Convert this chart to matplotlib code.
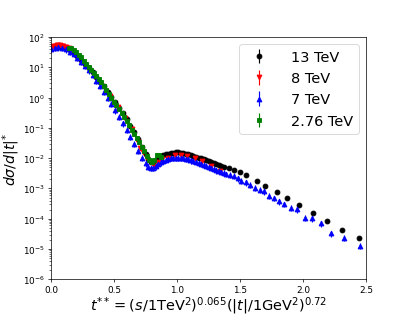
import numpy as np
import matplotlib
matplotlib.use("Agg")
import matplotlib.pyplot as plt

# 13 TeV (black)
x13 = [0.06, 0.09, 0.12, 0.15, 0.18, 0.21, 0.24, 0.27, 0.30, 0.33, 0.36, 0.39,
       0.42, 0.45, 0.48, 0.51, 0.54, 0.57, 0.60, 0.63, 0.66, 0.69, 0.72, 0.75,
       0.77, 0.79, 0.81, 0.83, 0.85, 0.87, 0.89, 0.91, 0.93, 0.95, 0.97, 0.99,
       1.01, 1.03, 1.05, 1.07, 1.09, 1.11, 1.13, 1.15, 1.17, 1.19, 1.21, 1.23,
       1.25, 1.27, 1.29, 1.31, 1.33, 1.35, 1.37, 1.41, 1.45, 1.50, 1.55, 1.63,
       1.70, 1.79, 1.875, 1.97, 2.08, 2.19, 2.31, 2.44]
lg13 = [1.66, 1.66, 1.62, 1.56, 1.48, 1.37, 1.25, 1.12, 0.98, 0.84, 0.69, 0.53,
        0.37, 0.20, 0.03, -0.15, -0.33, -0.52, -0.72, -0.93, -1.15, -1.38, -1.62, -1.86,
        -2.02, -2.12, -2.12, -2.06, -1.99, -1.94, -1.90, -1.87, -1.85, -1.83, -1.82, -1.81,
        -1.81, -1.82, -1.83, -1.85, -1.87, -1.89, -1.92, -1.95, -1.98, -2.01, -2.04, -2.07,
        -2.10, -2.13, -2.16, -2.19, -2.22, -2.25, -2.28, -2.32, -2.39, -2.47, -2.57, -2.77,
        -2.91, -3.11, -3.32, -3.55, -3.80, -4.07, -4.37, -4.62]

# 8 TeV (red)
x8 = [0.00, 0.01, 0.02, 0.03, 0.04, 0.05, 0.06, 0.07, 0.08, 0.09, 0.10, 0.11,
      0.12, 0.13, 0.14, 0.15, 0.16, 0.47, 0.53, 0.59, 0.64, 0.69, 0.71, 0.73,
      0.76, 0.79, 0.82, 0.85, 0.88, 0.93, 0.98, 1.03, 1.08, 1.14, 1.20, 1.27, 1.34]
lg8 = [1.64, 1.67, 1.69, 1.70, 1.71, 1.72, 1.72, 1.72, 1.71, 1.70, 1.69, 1.67,
       1.66, 1.64, 1.62, 1.60, 1.57, 0.05, -0.30, -0.68, -1.05, -1.46, -1.65, -1.81,
       -1.98, -2.14, -2.27, -2.12, -2.03, -1.98, -1.90, -1.90, -1.92, -2.01, -2.10, -2.25, -2.42]

# 7 TeV (blue)
x7 = [0.00, 0.03, 0.06, 0.09, 0.12, 0.15, 0.18, 0.21, 0.24, 0.27, 0.30, 0.33,
      0.36, 0.39, 0.42, 0.45, 0.48, 0.51, 0.54, 0.57, 0.60, 0.63, 0.66, 0.69,
      0.72, 0.75, 0.77, 0.79, 0.81, 0.83, 0.85, 0.87, 0.89, 0.91, 0.93, 0.95,
      0.97, 0.99, 1.01, 1.03, 1.05, 1.07, 1.09, 1.11, 1.13, 1.15, 1.17, 1.19,
      1.21, 1.23, 1.25, 1.27, 1.29, 1.31, 1.33, 1.35, 1.37, 1.39, 1.42, 1.45,
      1.48, 1.51, 1.55, 1.58, 1.62, 1.66, 1.69, 1.73, 1.77, 1.81, 1.85, 1.90,
      1.95, 2.01, 2.07, 2.14, 2.22, 2.32, 2.45]
lg7 = [1.60, 1.64, 1.66, 1.64, 1.59, 1.52, 1.43, 1.32, 1.19, 1.05, 0.90, 0.74,
       0.56, 0.38, 0.19, -0.01, -0.21, -0.42, -0.63, -0.85, -1.07, -1.30, -1.53, -1.76,
       -1.98, -2.17, -2.28, -2.33, -2.33, -2.27, -2.20, -2.14, -2.09, -2.05, -2.02, -2.00,
       -1.99, -1.98, -1.98, -1.99, -2.00, -2.02, -2.04, -2.07, -2.10, -2.13, -2.16, -2.19,
       -2.22, -2.26, -2.29, -2.33, -2.36, -2.40, -2.43, -2.46, -2.49, -2.53, -2.55, -2.58,
       -2.67, -2.75, -2.80, -2.88, -2.97, -3.05, -3.10, -3.24, -3.32, -3.43, -3.52, -3.63,
       -3.69, -3.96, -3.99, -4.15, -4.48, -4.62, -4.90]

# 2.76 TeV (green)
x276 = [0.14, 0.16, 0.18, 0.20, 0.22, 0.24, 0.26, 0.28, 0.30, 0.32, 0.34, 0.36,
        0.38, 0.40, 0.42, 0.44, 0.46, 0.48, 0.50, 0.52, 0.54, 0.56, 0.58, 0.60,
        0.62, 0.64, 0.66, 0.68, 0.70, 0.72, 0.74, 0.76, 0.78, 0.80, 0.82, 0.84, 0.86, 0.87]
lg276 = [1.62, 1.62, 1.57, 1.50, 1.42, 1.33, 1.22, 1.12, 1.02, 0.92, 0.82, 0.72,
         0.61, 0.50, 0.38, 0.26, 0.13, 0.00, -0.13, -0.26, -0.39, -0.52, -0.65, -0.78,
         -0.92, -1.06, -1.20, -1.34, -1.48, -1.62, -1.77, -1.92, -2.06, -2.14, -2.05, -1.90, -1.88, -1.96]

# relative errors (fraction of value)
err13 = 0.06
err8 = 0.08
err7 = 0.22
err276 = 0.08

series = [
    ("13 TeV", x13, lg13, err13, "k", "o"),
    ("8 TeV", x8, lg8, err8, "r", "v"),
    ("7 TeV", x7, lg7, err7, "b", "^"),
    ("2.76 TeV", x276, lg276, err276, "g", "s"),
]

fig, ax = plt.subplots(figsize=(6.4, 4.95), dpi=63.6)

for label, xs, lgs, rel, col, mk in series:
    ys = 10 ** np.array(lgs)
    ax.errorbar(xs, ys, yerr=rel * ys, fmt=mk, color=col, ms=5.5,
                elinewidth=1.3, label=label)

ax.set_yscale("log")
ax.set_xlim(0, 2.5)
ax.set_ylim(1e-6, 1e2)
ax.set_xlabel(r"$t^{**}=(s/1\mathrm{TeV}^2)^{0.065}(|t|/1\mathrm{GeV}^2)^{0.72}$",
              fontsize=16.5, labelpad=-0.5)
ax.set_ylabel(r"$d\sigma/d|t|^{*}$", fontsize=16, labelpad=0.5)
ax.legend(loc="upper right", fontsize=16.5, handletextpad=1.2)

fig.savefig("out.png", dpi=63.6)
